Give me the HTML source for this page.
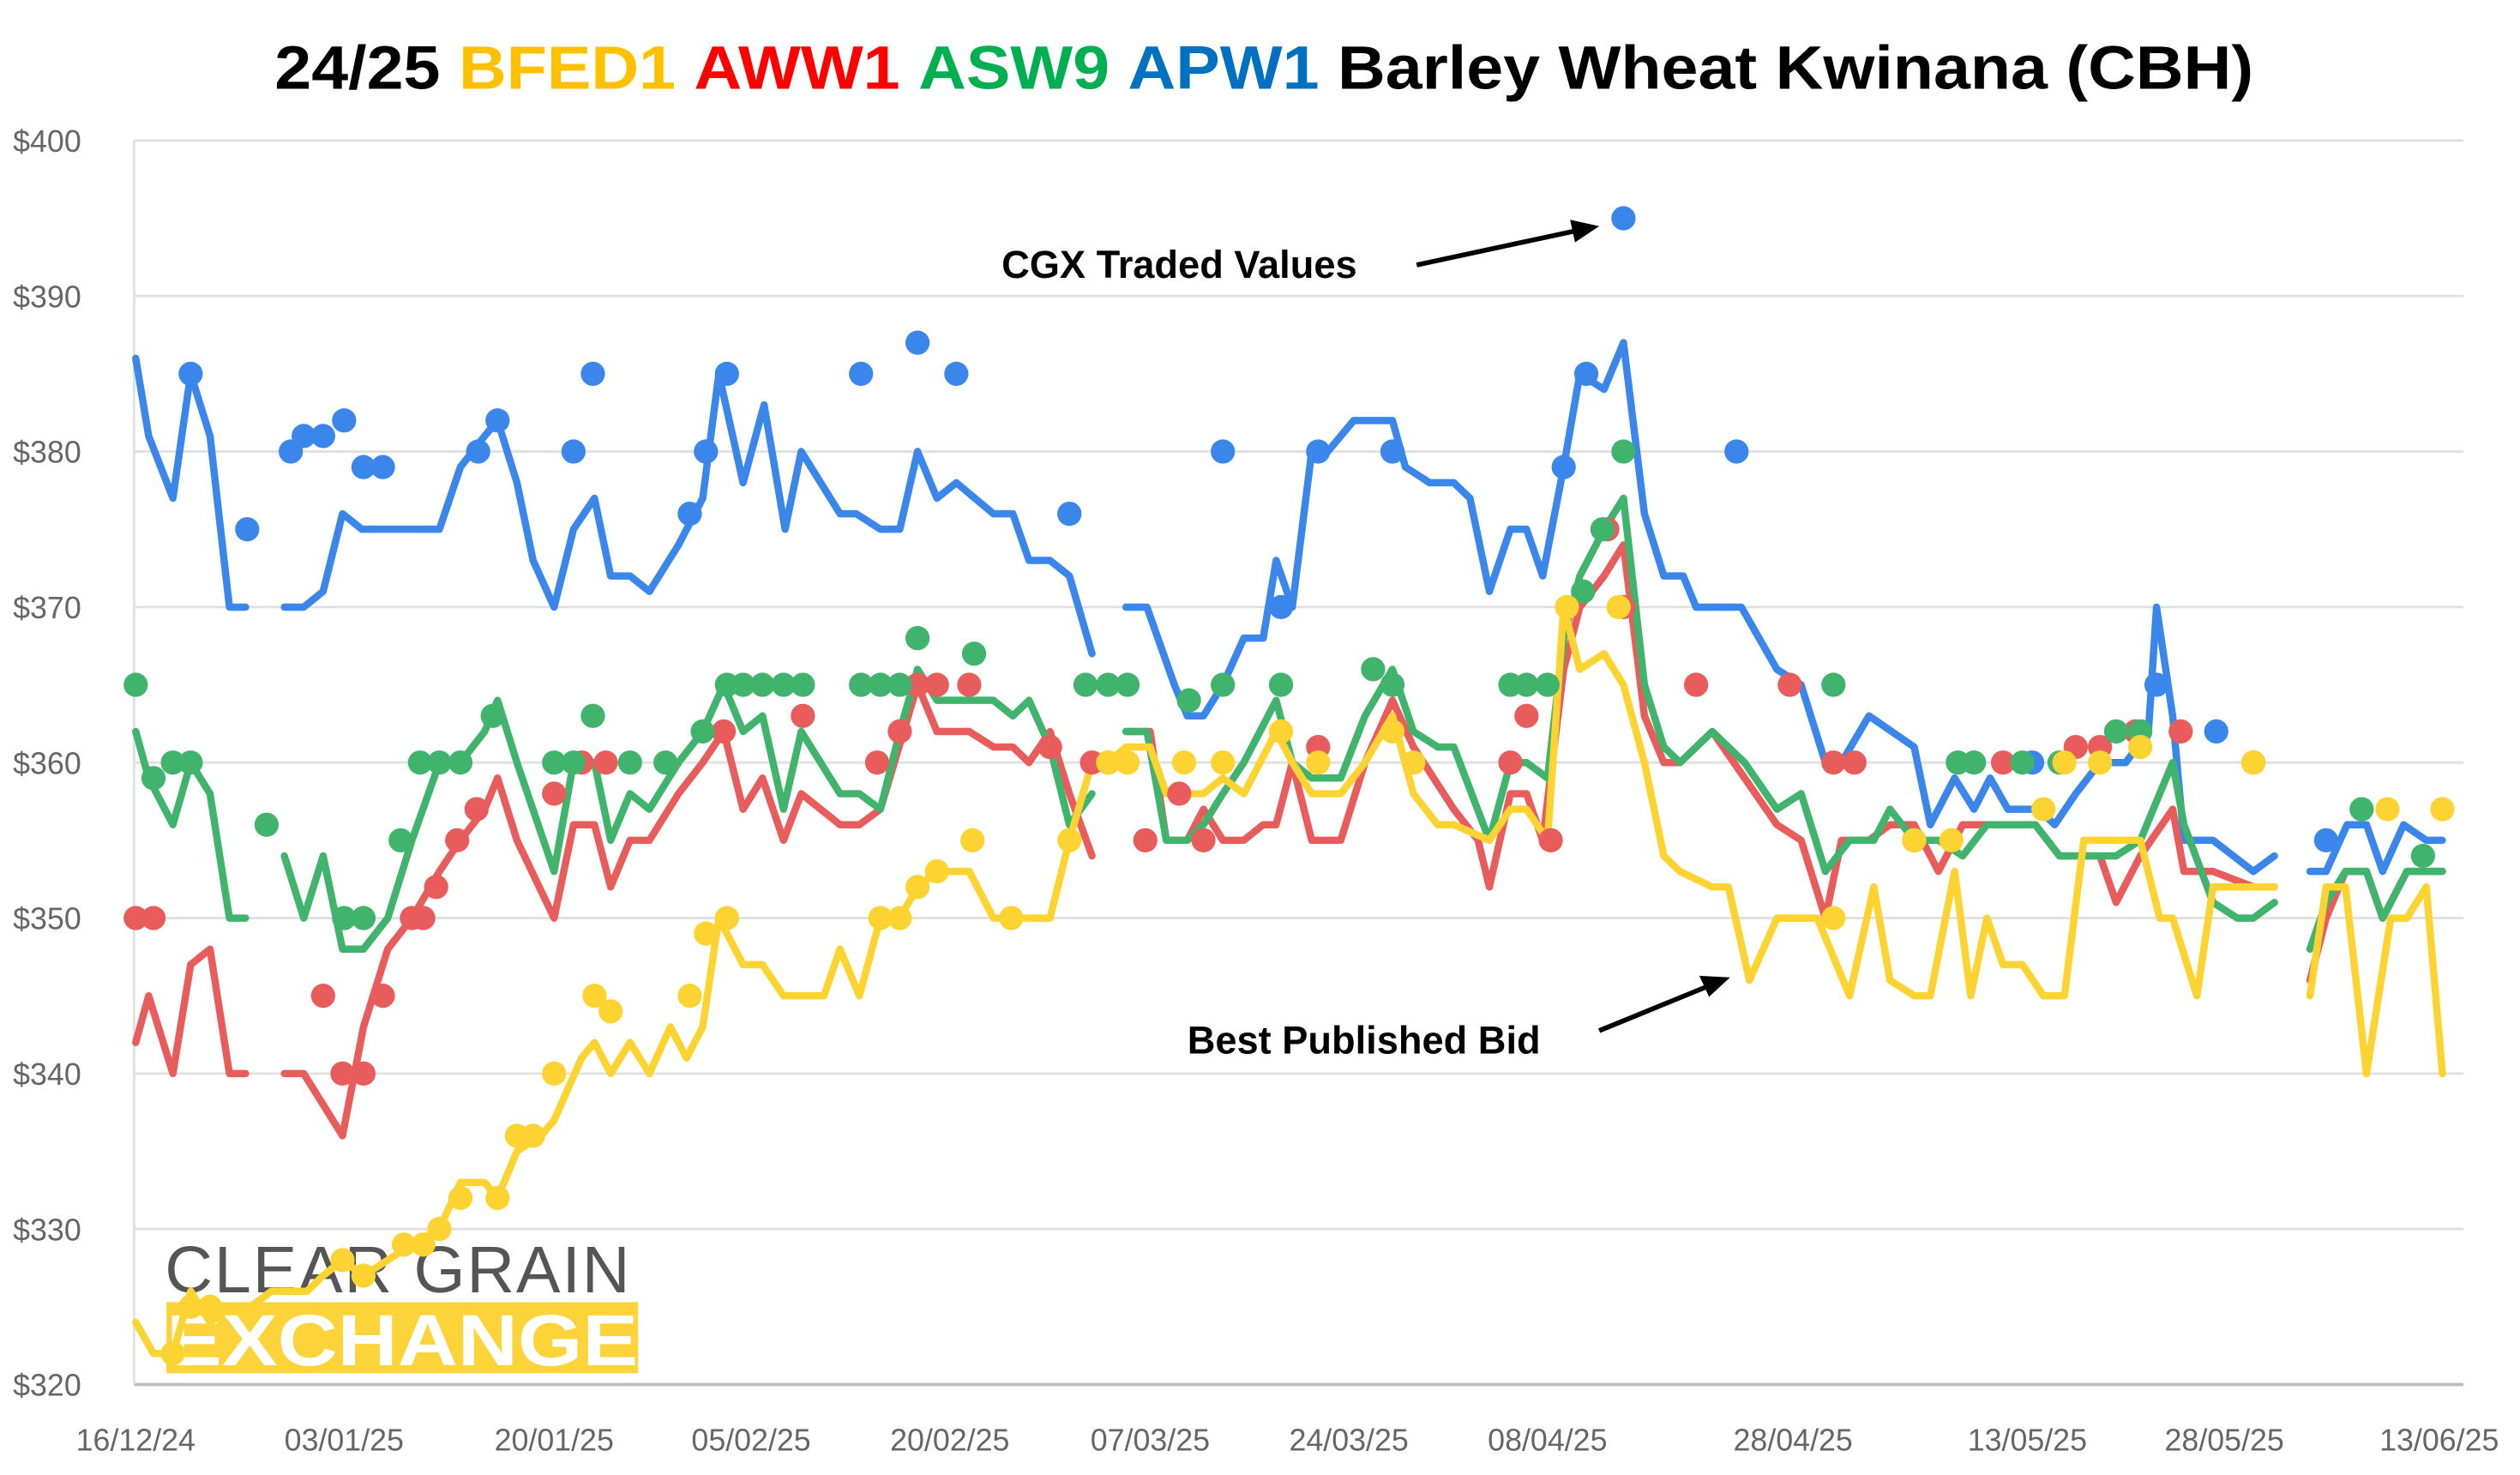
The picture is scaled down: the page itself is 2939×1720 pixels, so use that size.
<!DOCTYPE html>
<html><head><meta charset="utf-8"><style>
html,body{margin:0;padding:0;background:#fff;}
svg{display:block;font-family:"Liberation Sans",sans-serif;}
</style></head><body>
<svg id="chart" width="2939" height="1720" viewBox="0 0 1560 913" xmlns="http://www.w3.org/2000/svg">
<text x="170" y="55" font-size="38" font-weight="bold" fill="#000" textLength="1225" lengthAdjust="spacingAndGlyphs">24/25 <tspan fill="#ffc000">BFED1</tspan> <tspan fill="#ff0000">AWW1</tspan> <tspan fill="#00b050">ASW9</tspan> <tspan fill="#0070c0">APW1</tspan> Barley Wheat Kwinana (CBH)</text>
<g id="grid"></g>
<g id="axes"></g>
<g id="logo">
<text x="102" y="800" font-size="41" fill="#555" letter-spacing="1">CLEAR GRAIN</text>
<rect x="103" y="806" width="292" height="44" fill="#fdd33a"/>
<text x="103" y="845" font-size="45" font-weight="bold" fill="#fff" textLength="292" lengthAdjust="spacingAndGlyphs">EXCHANGE</text>
</g>
<g id="series"></g>
<g>
<text x="620" y="172" font-size="24" font-weight="bold" fill="#000">CGX Traded Values</text>
<line x1="877" y1="164" x2="975" y2="143" stroke="#000" stroke-width="3"/>
<polygon points="990,140 972,136 975,150" fill="#000"/>
</g>
<g>
<text x="735" y="652" font-size="24" font-weight="bold" fill="#000">Best Published Bid</text>
<line x1="990" y1="638" x2="1056" y2="611" stroke="#000" stroke-width="3"/>
<polygon points="1071,605 1052,604 1058,617" fill="#000"/>
</g>
</svg>
<script>
const yTicks=[320,330,340,350,360,370,380,390,400];
const xTickT=[0,12.9,25.9,38.1,50.4,62.8,75.1,87.4,102.6,117.1,129.3,142.6];
const xTickLabels=["16/12/24","03/01/25","20/01/25","05/02/25","20/02/25","07/03/25","24/03/25","08/04/25","28/04/25","13/05/25","28/05/25","13/06/25"];

const apwT=[0,0.8,2.3,3.4,4.6,5.8,6.8,null,9.2,10.4,11.6,12.8,14,15.6,18.8,20.1,21.6,22.4,23.6,24.6,25.9,27.1,28.4,29.4,30.6,31.8,33.6,35.1,36.1,37.6,38.9,40.2,41.2,43.6,44.6,46.1,47.3,48.4,49.6,50.8,53.1,54.3,55.3,56.6,57.8,59.2,null,61.3,62.6,64.3,65.1,66.1,67.3,68.6,69.8,70.6,71.6,72.8,73.8,75.4,77.8,78.6,80.1,81.6,82.6,83.8,85.1,86.1,87.1,88.4,89.4,90.9,92.1,93.4,94.6,95.8,96.6,99.4,101.6,103.1,104.6,105.6,107.3,110.1,111.1,112.6,113.8,114.8,115.9,117.8,118.8,120.1,121.6,123.2,124.6,125.1,126.1,126.8,128.6,131.1,132.4,null,134.6,135.6,136.9,138.1,139.1,140.4,141.8,142.8];
const apwV=[386,381,377,385,381,370,370,null,370,370,371,376,375,375,375,379,381,382,378,373,370,375,377,372,372,371,374,377,385,378,383,375,380,376,376,375,375,380,377,378,376,376,373,373,372,367,null,370,370,365,363,363,365,368,368,373,370,380,380,382,382,379,378,378,377,371,375,375,372,379,385,384,387,376,372,372,370,370,366,365,360,360,363,361,356,359,357,359,357,357,356,358,360,360,362,370,363,355,355,353,354,null,353,353,356,356,353,356,355,355];

const awwT=[0,0.8,2.3,3.4,4.6,5.8,6.8,null,9.2,10.4,12.8,14.1,15.6,17.1,18.8,20.1,21.6,22.4,23.6,25.9,27.1,28.4,29.4,30.6,31.8,33.6,35.1,36.4,37.6,38.8,40.1,41.2,43.6,44.8,46.1,48.4,49.6,51.6,53.1,54.3,55.3,56.6,57.8,59.2,null,61.3,62.8,63.8,65.1,66.1,67.3,68.6,69.8,70.6,71.6,72.8,74.6,76.1,77.8,79.1,81.6,83.1,83.8,85.1,86.1,87.1,88.4,89.4,90.9,92.1,93.4,94.6,95.6,97.6,99.6,101.6,103.1,104.6,105.6,107.3,108.6,110.1,111.6,113.1,116.1,117.6,119.1,121.6,122.6,124.1,126.1,126.8,128.6,131.1,132.4,null,134.6,135.6,136.8,138.1,139.1,140.6,141.8,142.8];
const awwV=[342,345,340,347,348,340,340,null,340,340,336,343,348,350,353,355,357,359,355,350,356,356,352,355,355,358,360,362,357,359,355,358,356,356,357,365,362,362,361,361,360,362,358,354,null,362,362,355,355,357,355,355,356,356,360,355,355,360,364,361,357,355,352,358,358,355,366,370,372,374,363,360,360,362,359,356,355,350,355,355,356,356,353,356,356,356,354,354,351,354,357,353,353,352,352,null,346,350,353,353,350,353,353,353];

const aswT=[0,0.8,2.3,3.4,4.6,5.8,6.8,null,9.2,10.4,11.6,12.8,14.1,15.6,17.1,18.8,20.1,21.6,22.4,23.6,25.9,27.1,28.4,29.4,30.6,31.8,33.6,35.1,36.4,37.6,38.8,40.1,41.2,43.6,44.8,46.1,47.3,48.4,49.6,51.6,53.1,54.3,55.3,56.6,57.8,59.2,null,61.3,62.6,63.8,65.1,66.1,67.3,68.6,70.6,71.6,72.8,74.6,76.1,77.8,79.1,80.6,81.6,83.8,85.1,86.1,87.4,88.4,89.4,90.9,92.1,93.4,94.6,95.6,97.6,99.6,101.6,103.1,104.6,106.1,107.6,108.6,110.1,111.6,113.1,114.6,116.1,117.6,119.1,121.6,122.6,124.1,126.1,126.8,128.6,130.1,131.1,132.4,null,134.6,135.6,136.8,138.1,139.1,140.6,141.8,142.8];
const aswV=[362,359,356,360,358,350,350,null,354,350,354,348,348,350,355,360,360,362,364,360,353,360,360,355,358,357,360,362,365,362,363,357,362,358,358,357,362,366,364,364,364,363,364,361,356,358,null,362,362,355,355,356,358,360,364,360,359,359,363,366,362,361,361,355,360,360,359,368,372,375,377,365,361,360,362,360,357,358,353,355,355,357,355,355,354,356,356,356,354,354,354,355,360,356,351,350,350,351,null,348,351,353,353,350,353,353,353];

const bfedT=[0,1.1,2.3,3.4,4.6,5.8,7.1,8.4,10.6,11.6,12.8,14.1,15.6,17.1,18.8,20.1,21.6,22.4,23.6,25.1,25.9,27.6,28.4,29.4,30.6,31.8,33.1,34.1,35.1,36.1,37.6,38.8,40.1,41.2,42.6,43.6,44.8,46.1,47.3,48.4,49.6,51.6,53.1,54.3,55.3,56.6,57.8,59.2,60.2,61.3,62.8,63.8,65.1,66.1,67.3,68.6,70.6,71.6,72.8,74.6,76.1,77.8,79.1,80.6,81.6,83.8,85.1,86.1,87.4,88.4,89.4,90.9,92.1,93.4,94.6,95.6,97.6,98.6,99.9,101.6,103.1,104.1,106.1,107.6,108.6,110.1,111.1,112.6,113.6,114.6,115.6,116.8,118.1,119.4,120.6,121.6,124.1,125.3,126.1,127.6,128.6,131.1,132.4,null,134.6,135.6,136.8,138.1,139.6,140.6,141.8,142.8];
const bfedV=[324,322,322,326,324,325,325,326,326,327,328,327,328,329,330,333,333,332,335,336,337,341,342,340,342,340,343,341,343,350,347,347,345,345,345,348,345,350,350,352,353,353,350,350,350,350,355,360,360,361,361,358,358,358,359,358,362,360,358,358,360,363,358,356,356,355,357,357,355,370,366,367,365,360,354,353,352,352,346,350,350,350,345,352,346,345,345,353,345,350,347,347,345,345,355,355,355,350,350,345,352,352,352,null,345,352,352,340,350,350,352,340];

const apwDotT=[3.4,6.9,9.6,10.4,11.6,12.9,14.1,15.3,21.2,22.4,27.1,28.3,34.3,35.3,36.6,44.9,48.4,50.8,57.8,67.3,70.9,73.2,77.8,88.4,89.8,92.1,99.1,117.4,125.1,128.8,135.6];
const apwDotV=[385,375,380,381,381,382,379,379,380,382,380,385,376,380,385,385,387,385,376,380,370,380,380,379,385,395,380,360,365,362,355];
const awwDotT=[0,1.1,11.6,12.8,14.1,15.3,17.1,17.8,18.6,19.9,21.1,25.9,27.6,29.1,36.4,41.3,45.9,47.3,48.4,49.6,51.6,56.6,59.2,60.2,62.5,64.6,66.1,73.2,85.1,86.1,87.6,91.1,92.1,96.6,102.4,105.1,106.4,110.1,115.6,120.1,121.6,123.8,126.6,131.1];
const awwDotV=[350,350,345,340,340,345,350,350,352,355,357,358,360,360,362,363,360,362,365,365,365,361,360,360,355,358,355,361,360,363,355,375,370,365,365,360,360,355,360,361,361,362,362,360];
const aswDotT=[0,1.1,2.3,3.4,8.1,12.9,14.1,16.4,17.6,18.8,20.1,22.1,25.9,27.1,28.3,30.6,32.8,35.1,36.6,37.6,38.8,40.1,41.3,44.9,46.1,47.3,48.4,51.9,58.8,60.2,61.4,65.2,67.3,70.9,76.6,77.8,85.1,86.1,87.4,89.6,90.8,92.1,105.1,110.1,112.8,113.8,116.8,119.1,122.6,124.1,137.8,141.6];
const aswDotV=[365,359,360,360,356,350,350,355,360,360,360,363,360,360,363,360,360,362,365,365,365,365,365,365,365,365,368,367,365,365,365,364,365,365,366,365,365,365,365,371,375,380,365,355,360,360,360,360,362,362,357,354];
const bfedDotT=[2.3,3.4,4.6,12.8,14.1,16.6,17.8,18.8,20.1,22.4,23.6,24.6,25.9,28.4,29.4,34.3,35.3,36.6,46.1,47.3,48.4,49.6,51.8,54.2,57.8,60.2,61.4,64.9,67.3,70.9,73.2,77.8,79.1,88.6,91.8,105.1,110.1,112.4,118.1,119.4,121.6,124.1,131.1,139.4,142.8];
const bfedDotV=[322,325,325,328,327,329,329,330,332,332,336,336,340,345,344,345,349,350,350,350,352,353,355,350,355,360,360,360,360,362,360,362,360,370,370,350,355,355,357,360,360,361,360,357,357];

const NS="http://www.w3.org/2000/svg";
const X0=84, XPER=10, Y0=857, YTOP=87, VMIN=320, VMAX=400;
function xs(t){return X0+t*XPER;}
function ys(v){return Y0-(v-VMIN)/(VMAX-VMIN)*(Y0-YTOP);}
function mk(tag,attrs,parent){const e=document.createElementNS(NS,tag);for(const k in attrs)e.setAttribute(k,attrs[k]);parent.appendChild(e);return e;}

const grid=document.getElementById('grid'), axes=document.getElementById('axes'), series=document.getElementById('series');
yTicks.forEach(v=>{
  const l=mk('line',{x1:83,x2:1525,y1:ys(v),y2:ys(v),stroke:v===VMIN?'#bbb':'#e0e0e0','stroke-width':v===VMIN?2:1.5},grid);
  
  
  const tx=mk('text',{x:8,y:ys(v)+7,'font-size':19,fill:'#666'},axes);
  tx.textContent='$'+v;
  
  
});
const ax=mk('line',{x1:83,x2:83,y1:YTOP,y2:Y0,stroke:'#e0e0e0','stroke-width':1.5},grid);


xTickT.forEach((t,i)=>{
  const tx=mk('text',{x:Math.min(xs(t),1512),y:898,'font-size':19,fill:'#666','text-anchor':'middle'},axes);
  tx.textContent=xTickLabels[i];
  
  
});

function drawLine(T,V,color,name){
  let d='',pen=false;
  const n=Math.min(T.length,V.length);
  for(let i=0;i<n;i++){
    if(T[i]===null||V[i]===null){pen=false;continue;}
    d+=(pen?'L':'M')+xs(T[i]).toFixed(1)+' '+ys(V[i]).toFixed(1)+' ';pen=true;
  }
  const p=mk('path',{d:d,fill:'none',stroke:color,'stroke-width':4.5,'stroke-linejoin':'round','stroke-linecap':'round'},series);
  
  
}
function drawDots(T,V,color,name){
  const n=Math.min(T.length,V.length);
  for(let i=0;i<n;i++){
    const c=mk('circle',{cx:xs(T[i]),cy:ys(V[i]),r:7.5,fill:color},series);
    
    
  }
}
const cBlue='#3a86ea', cRed='#e85c5c', cGreen='#40b46c', cYellow='#fdd331';
drawLine(apwT,apwV,cBlue,'apw1-bid-line');
drawLine(awwT,awwV,cRed,'aww1-bid-line');
drawLine(aswT,aswV,cGreen,'asw9-bid-line');
drawLine(bfedT,bfedV,cYellow,'bfed1-bid-line');
drawDots(apwDotT,apwDotV,cBlue,'apw1-traded-point');
drawDots(awwDotT,awwDotV,cRed,'aww1-traded-point');
drawDots(aswDotT,aswDotV,cGreen,'asw9-traded-point');
drawDots(bfedDotT,bfedDotV,cYellow,'bfed1-traded-point');
</script>
</body></html>
